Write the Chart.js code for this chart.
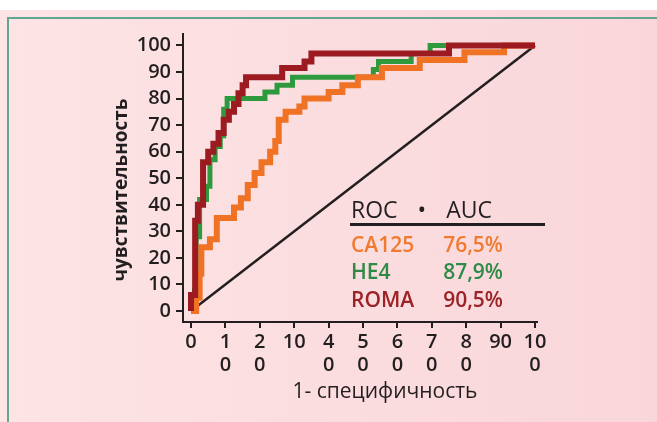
<!DOCTYPE html>
<html>
<head>
<meta charset="utf-8">
<script src="https://cdn.jsdelivr.net/npm/chart.js@4.4.1/dist/chart.umd.min.js"></script>
<style>
    html, body { margin: 0; padding: 0; background: #fff; }
    #wrap { position: relative; width: 657px; height: 422px; overflow: hidden; }
    #panel { position: absolute; left: 0; top: 10px; width: 657px; height: 412px;
             background: linear-gradient(90deg, #fde4e5, #f9d6da); }
    #frame { position: absolute; left: 7px; top: 17px; width: 700px; height: 500px;
             border-top: 2px solid #62a593; border-left: 2px solid #62a593; }
    #roc { position: absolute; left: 0; top: 0; }
</style>
</head>
<body>
<div id="wrap">
    <div id="panel"></div>
    <div id="frame"></div>
    <canvas id="roc" width="657" height="422"></canvas>
</div>
<script>
    'use strict';

    // axis ticks (1 - specificity, sensitivity), in %
    var tickValues = [0, 10, 20, 30, 40, 50, 60, 70, 80, 90, 100];
    var yTickLabels = ['0', '10', '20', '30', '40', '50', '60', '70', '80', '90', '100'];
    // x labels are broken over two lines in the original
    var xTickLabels = ['0', ['1', '0'], ['2', '0'], '10', ['4', '0'], ['5', '0'], ['6', '0'], ['7', '0'], ['8', '0'], '90', ['10', '0']];

    var yTitle = 'чувствительность';
    var xTitle = '1- специфичность';
    var tableHeader = 'ROC • AUC';

    var markers = ['CA125', 'HE4', 'ROMA'];
    var aucValues = ['76,5%', '87,9%', '90,5%'];

    // ROC staircases: step points (x = 1 - specificity, y = sensitivity)
    var fprCA125 = [0, 1.5, 2.5, 3, 5.5, 7.5, 12.5, 14.5, 16.5, 18.5, 20.5, 23, 24.5, 25.5, 27.5, 31.5, 33, 40, 44, 48.5, 55.5, 66.5, 79.5, 91, 100];
    var tprCA125 = [0, 5, 14, 24, 27, 35, 39, 42.5, 47.5, 52, 56, 60, 64, 72, 75, 77, 80, 82.5, 85, 88, 91.5, 94.5, 97.5, 100, 100];

    var fprHE4 = [0, 1, 1.5, 2.5, 4.5, 5.5, 7, 8.5, 9.5, 10.5, 21.5, 25, 29.5, 53, 54.5, 64, 69.5, 100];
    var tprHE4 = [0, 8, 28, 42, 47, 57, 62, 66, 76, 80, 82.5, 85, 88, 91, 94, 97, 100, 100];

    var fprROMA = [0, 0, 1.2, 2, 3.5, 5, 6.5, 8, 9.5, 11, 12.5, 13.8, 15, 16, 26.5, 33, 35, 75, 100];
    var tprROMA = [0, 6, 34, 40, 56, 60, 63, 67, 72, 75, 78, 82, 85, 88, 91.5, 94, 97, 100, 100];

    var diagX = [0, 100];
    var diagY = [0, 100];

    var colCA125 = '#f07225';
    var colHE4 = '#2f9a3d';
    var colROMA = '#9c1b20';
    var textColors = ['#ef7a30', '#2e8b47', '#9b2226'];
    var ink = '#231f20';

    function points(xs, ys) {
        return xs.map(function (x, i) {
            return {x: x, y: ys[i]};
        });
    }

    function curve(label, xs, ys, color, width, order) {
        return {
            label: label,
            data: points(xs, ys),
            showLine: true,
            stepped: 'before',
            borderColor: color,
            backgroundColor: color,
            borderWidth: width,
            borderJoinStyle: 'miter',
            pointRadius: 0,
            fill: false,
            order: order
        };
    }

    // stretch the gaps between words so the text fills the given width
    function fitWords(ctx, text, x, y, width) {
        ctx.wordSpacing = '0px';
        var w = ctx.measureText(text).width;
        var gaps = text.split(' ').length - 1;
        ctx.wordSpacing = ((width - w) / gaps) + 'px';
        ctx.fillText(text, x, y);
        ctx.wordSpacing = '0px';
    }

    var textPlugin = {
        id: 'rocText',
        afterDraw: function (chart) {
            var ctx = chart.ctx;

            ctx.save();
            ctx.fillStyle = ink;
            ctx.translate(127, 190);
            ctx.rotate(-Math.PI / 2);
            ctx.font = '700 19px "Open Sans"';
            ctx.textAlign = 'center';
            ctx.textBaseline = 'alphabetic';
            ctx.fillText(yTitle, 0, 0);
            ctx.restore();

            ctx.save();
            ctx.fillStyle = ink;
            ctx.font = '500 21px "Open Sans"';
            ctx.textAlign = 'center';
            ctx.textBaseline = 'alphabetic';
            ctx.fillText(xTitle, 385, 398);

            // little AUC table
            ctx.textAlign = 'left';
            ctx.font = '400 23px "Open Sans"';
            fitWords(ctx, tableHeader, 351, 218, 141);
            ctx.strokeStyle = ink;
            ctx.lineWidth = 3;
            ctx.beginPath();
            ctx.moveTo(350, 224.5);
            ctx.lineTo(545, 224.5);
            ctx.stroke();

            var baselines = [252, 279, 307];
            ctx.font = '600 21px "Open Sans"';
            markers.forEach(function (m, i) {
                ctx.fillStyle = textColors[i];
                ctx.textAlign = 'left';
                ctx.fillText(m, 351, baselines[i]);
                ctx.textAlign = 'right';
                ctx.fillText(aucValues[i], 503, baselines[i]);
            });
            ctx.restore();
        }
    };

    var tickFont = {family: 'Open Sans', size: 20, weight: '600', lineHeight: 1.15};

    new Chart(document.getElementById('roc').getContext('2d'), {
        type: 'scatter',
        data: {
            datasets: [
                curve('ROMA', fprROMA, tprROMA, colROMA, 6, 0),
                curve('CA125', fprCA125, tprCA125, colCA125, 6, 1),
                curve('HE4', fprHE4, tprHE4, colHE4, 5, 2),
                {
                    label: 'diag',
                    data: points(diagX, diagY),
                    showLine: true,
                    borderColor: ink,
                    borderWidth: 2.5,
                    pointRadius: 0,
                    order: 3
                }
            ]
        },
        options: {
            responsive: false,
            animation: false,
            devicePixelRatio: 1,
            layout: {padding: {top: 34, right: 120, left: 0, bottom: 0}},
            plugins: {legend: {display: false}, tooltip: {enabled: false}},
            scales: {
                x: {
                    type: 'linear',
                    min: -2.33,
                    max: 100.58,
                    afterBuildTicks: function (scale) {
                        scale.ticks = tickValues.map(function (v) { return {value: v}; });
                    },
                    afterFit: function (scale) { scale.height = 100; },
                    border: {display: true, color: ink, width: 2},
                    grid: {drawOnChartArea: false, drawTicks: true, tickLength: 6, color: ink, lineWidth: 2},
                    ticks: {
                        autoSkip: false,
                        maxRotation: 0,
                        padding: 3,
                        color: ink,
                        font: tickFont,
                        callback: function (value) { return xTickLabels[tickValues.indexOf(value)]; }
                    }
                },
                y: {
                    type: 'linear',
                    min: -4.14,
                    max: 104.33,
                    afterBuildTicks: function (scale) {
                        scale.ticks = tickValues.map(function (v) { return {value: v}; });
                    },
                    afterFit: function (scale) { scale.width = 183; },
                    border: {display: true, color: ink, width: 2},
                    grid: {drawOnChartArea: false, drawTicks: true, tickLength: 7, color: ink, lineWidth: 2},
                    ticks: {
                        autoSkip: false,
                        padding: 5,
                        color: ink,
                        font: tickFont,
                        callback: function (value) { return yTickLabels[tickValues.indexOf(value)]; }
                    }
                }
            }
        },
        plugins: [textPlugin]
    });
</script>
</body>
</html>
